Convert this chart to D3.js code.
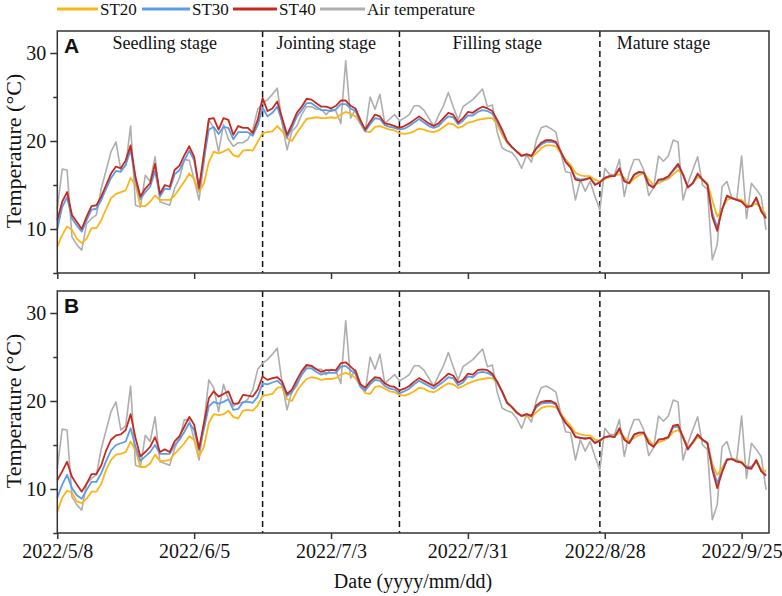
<!DOCTYPE html>
<html lang="en">
<head>
  <meta charset="utf-8">
  <script src="https://d3js.org/d3.v7.min.js"></script>
  <style>
    body { margin: 0; background: #fff; }
    text { font-family: "Liberation Serif", "Times New Roman", serif; fill: #111; }
  </style>
</head>
<body>
  <div id="chart"></div>
  <script>
  const width = 782
  const height = 596

  // ---------------- data ----------------
  const startDate = "2022-05-08"
  const endDay = 145.6            // axis runs a little past the last day
  const tickDates = ["2022-05-08", "2022-06-05", "2022-07-03", "2022-07-31", "2022-08-28", "2022-09-25"]
  const stageBreaks = ["2022-06-19", "2022-07-17", "2022-08-27"]
  const stageNames = ["Seedling stage", "Jointing stage", "Filling stage", "Mature stage"]
  const stageLabelX = ["2022-05-30", "2022-07-02", "2022-08-06", "2022-09-09"]
  const seriesNames = ["ST20", "ST30", "ST40", "Air temperature"]
  const seriesColors = ["#FDB515", "#5B9CEB", "#C62A1E", "#AEAEAE"]

  // daily mean air temperature, 2022/5/8 - 2022/9/30
  const airTemp = [
    12.3,16.8,16.7,9.1,8.2,7.6,10.6,11.2,11.6,14.6, 16.7,18.8,19.9,16.7,17.2,21.7,12.7,12.5,16.1,15.4,
    18.2,13.1,12.9,12.7,14.6,15.8,17.9,17.8,15.6,13.3, 17.5,22.4,21.5,18.8,21.9,20.2,19.4,19.8,19.8,20.2,
    21.3,23.6,24.3,24.7,25.3,26.0,22.0,19.0,21.1,21.7, 23.0,23.9,23.9,23.6,23.6,23.0,23.6,23.4,22.0,29.1,
    22.6,23.6,22.0,21.1,25.0,23.6,25.3,22.0,22.5,23.0, 22.3,22.6,23.0,24.0,24.0,23.5,22.6,21.7,22.9,24.0,
    25.5,23.9,22.4,23.9,24.3,24.7,25.3,25.9,23.9,24.1, 21.0,19.2,18.9,18.7,18.0,16.9,18.4,17.6,20.1,21.5,
    21.7,21.4,21.0,18.6,16.5,16.4,13.3,15.6,14.3,15.4, 13.7,12.2,16.9,16.2,16.2,17.9,13.7,16.4,17.9,17.9,
    16.7,13.8,14.7,18.3,17.7,18.3,20.1,19.9,13.3,15.2, 16.7,18.2,15.0,14.5,6.5,8.2,14.8,15.4,13.5,13.3,
    18.3,11.2,15.2,14.5,13.7,9.9
  ]

  // panel A soil temperatures
  const stA20 = [
    8.0,9.3,10.3,9.9,8.9,8.4,8.9,10.1,10.1,11.0, 12.3,13.5,14.0,14.2,14.4,15.8,15.0,12.6,12.6,13.1,
    13.8,13.3,13.3,13.3,13.8,14.6,15.4,16.3,15.7,14.2, 15.2,17.6,18.8,18.6,18.8,19.1,18.4,18.2,18.9,19.0,
    18.9,19.9,20.9,21.0,21.1,21.7,21.1,20.3,20.0,20.9, 21.7,22.5,22.6,22.7,22.6,22.6,22.7,22.6,23.0,23.3,
    23.1,22.8,22.0,21.1,21.0,21.6,21.7,21.5,21.3,21.2, 20.9,20.8,20.9,21.1,21.4,21.3,21.1,21.0,21.2,21.6,
    22.0,21.9,21.5,21.7,22.1,22.2,22.4,22.5,22.6,22.6, 21.9,20.7,19.8,19.3,18.8,18.4,18.4,18.2,18.6,19.2,
    19.5,19.5,19.4,18.6,17.9,17.3,16.4,16.1,16.0,16.0, 15.6,15.4,15.7,15.9,16.1,16.2,15.8,15.2,15.7,16.1,
    16.4,15.6,15.0,15.2,15.5,15.7,16.2,16.7,16.2,14.8, 15.2,15.9,15.7,15.2,13.3,11.4,12.3,13.3,13.5,13.4,
    13.3,12.8,12.6,12.9,12.4,11.6
  ]
  const stA30 = [
    10.0,12.5,13.6,11.2,10.4,9.7,11.0,12.2,12.3,13.3, 14.6,15.8,16.6,16.5,17.3,19.0,15.5,13.4,14.2,14.8,
    16.6,13.7,14.6,14.5,16.2,16.7,17.8,18.9,17.8,14.5, 18.0,21.3,21.6,20.8,21.6,21.5,20.2,21.0,21.0,21.0,
    20.6,21.8,23.8,22.8,23.2,23.9,22.2,20.4,21.5,22.8, 23.5,24.3,24.3,23.9,23.5,23.5,23.4,23.6,24.2,24.2,
    23.7,23.4,22.1,21.1,21.9,22.6,22.5,21.8,21.6,21.5, 21.3,21.4,21.7,22.1,22.5,22.1,21.7,21.5,21.7,22.3,
    22.8,22.7,21.9,22.3,22.9,22.9,23.3,23.5,23.4,23.1, 22.2,21.1,19.9,19.3,18.8,18.3,18.4,18.3,19.1,19.6,
    19.9,19.9,19.8,18.8,17.7,17.0,15.8,15.6,15.7,15.8, 15.1,15.3,15.8,16.0,16.0,16.8,15.5,15.2,16.1,16.4,
    16.4,15.1,14.8,15.5,15.6,15.9,16.6,17.2,16.2,14.8, 15.2,16.2,15.6,15.1,11.8,10.2,12.2,13.7,13.5,13.3,
    13.1,12.6,12.6,13.4,12.1,11.3
  ]
  const stA40 = [
    11.0,13.1,14.2,11.6,10.8,10.0,11.4,12.6,12.7,13.7, 15.0,16.3,17.1,16.9,17.8,19.5,15.9,13.7,14.6,15.2,
    17.4,14.0,15.0,14.8,16.7,17.2,18.4,19.4,18.2,14.7, 18.6,22.5,22.6,21.3,22.6,22.4,20.7,21.7,21.5,21.5,
    20.9,22.4,24.9,23.4,23.7,24.5,22.6,20.7,21.9,23.2, 23.9,24.8,24.7,24.3,23.9,23.9,23.7,24.0,24.6,24.6,
    24.0,23.7,22.4,21.3,22.2,23.0,22.8,22.0,21.9,21.7, 21.5,21.7,22.0,22.4,22.8,22.4,22.0,21.7,22.0,22.6,
    23.2,23.0,22.1,22.6,23.3,23.2,23.6,23.9,23.7,23.4, 22.4,21.3,20.0,19.3,18.8,18.3,18.5,18.3,19.2,19.8,
    20.1,20.1,19.9,18.8,17.6,17.0,15.6,15.5,15.6,15.8, 15.0,15.3,15.8,16.0,16.0,16.9,15.4,15.2,16.2,16.5,
    16.4,15.0,14.7,15.6,15.7,16.0,16.7,17.4,16.2,14.7, 15.2,16.3,15.6,15.0,11.4,9.8,12.2,13.8,13.5,13.3,
    13.1,12.5,12.6,13.6,12.0,11.2
  ]

  // panel B soil temperatures
  const stB20 = [
    7.4,9.0,9.8,9.6,8.6,8.4,8.9,9.7,9.7,10.6, 12.2,13.3,13.9,14.0,14.2,15.4,14.4,12.5,12.5,12.9,
    13.9,13.2,13.2,13.3,14.0,14.6,15.2,16.0,15.6,13.7, 14.8,17.5,18.5,18.4,18.5,18.9,18.2,18.0,18.9,19.0,
    18.9,19.5,20.6,20.7,20.8,21.5,21.6,20.2,20.0,21.1, 21.9,22.5,22.7,22.6,22.4,22.5,22.5,22.6,23.0,23.2,
    23.0,22.6,21.7,20.9,20.8,21.6,21.7,21.4,21.1,21.0, 20.7,20.6,20.8,21.1,21.5,21.4,21.1,21.0,21.3,21.7,
    22.0,21.9,21.5,21.7,22.0,22.2,22.4,22.5,22.6,22.6, 22.0,21.1,19.9,19.3,18.6,18.3,18.3,18.2,18.7,19.2,
    19.4,19.4,19.3,18.6,17.8,17.2,16.4,16.2,16.1,16.1, 15.6,15.5,15.8,16.0,16.0,16.4,15.9,15.4,15.8,16.1,
    16.3,15.6,15.0,15.3,15.5,15.8,16.5,16.7,16.0,14.8, 15.2,15.9,15.6,15.3,12.9,11.6,12.4,13.4,13.4,13.3,
    13.1,12.6,12.5,13.0,12.3,12.0
  ]
  const stB30 = [
    9.0,10.5,11.6,10.1,9.3,8.9,9.9,10.8,10.8,11.8, 13.2,14.4,15.0,15.2,15.4,16.9,14.8,13.2,13.7,14.2,
    15.0,14.0,14.0,14.0,15.0,15.6,16.5,17.5,16.7,14.4, 16.8,19.4,19.9,19.7,19.9,20.2,19.0,19.1,19.9,19.9,
    19.8,20.5,22.0,21.9,22.1,22.3,21.8,20.6,21.0,22.0, 23.0,23.7,23.7,23.3,23.0,23.2,23.2,23.2,23.9,24.0,
    23.5,23.1,21.6,21.2,21.9,22.4,22.3,21.7,21.4,21.3, 20.9,21.1,21.4,21.9,22.3,22.0,21.7,21.4,21.8,22.2,
    22.7,22.6,21.8,22.1,22.8,22.7,23.2,23.3,23.2,22.9, 22.1,21.0,19.8,19.3,18.7,18.3,18.5,18.3,19.3,19.7,
    19.8,19.8,19.6,18.4,17.5,16.9,16.0,15.8,15.8,15.8, 15.3,15.5,15.9,16.0,15.9,16.8,15.6,15.2,16.1,16.4,
    16.4,15.2,14.8,15.6,15.7,15.9,17.0,17.1,15.9,14.6, 15.3,16.1,15.6,15.2,12.5,10.7,12.0,13.4,13.4,13.2,
    13.0,12.5,12.5,13.2,12.1,11.6
  ]
  const stB40 = [
    11.0,12.0,13.1,11.4,10.5,9.7,10.6,11.7,11.7,12.7, 14.4,15.6,16.1,16.2,16.7,18.5,15.8,13.7,14.2,14.8,
    15.9,14.2,14.5,14.2,15.4,16.0,17.1,18.2,17.3,14.6, 17.5,20.3,21.1,20.5,20.8,21.1,19.7,19.7,20.7,20.6,
    20.5,21.3,22.8,22.4,22.6,22.7,22.2,20.8,21.3,22.4, 23.4,24.1,24.0,23.6,23.3,23.5,23.5,23.5,24.3,24.4,
    23.9,23.4,21.9,21.5,22.2,22.7,22.6,22.0,21.7,21.6, 21.2,21.4,21.7,22.2,22.6,22.3,22.0,21.7,22.1,22.6,
    23.1,22.9,22.1,22.4,23.1,23.0,23.5,23.6,23.5,23.1, 22.2,21.1,19.8,19.3,18.7,18.3,18.5,18.3,19.5,19.9,
    20.0,20.0,19.7,18.4,17.5,16.9,15.9,15.8,15.7,15.8, 15.2,15.5,15.9,16.0,15.9,16.9,15.6,15.2,16.2,16.4,
    16.4,15.2,14.8,15.6,15.7,15.9,17.2,17.3,15.9,14.5, 15.3,16.2,15.6,15.2,12.2,10.1,11.9,13.3,13.4,13.1,
    13.0,12.4,12.3,13.3,12.0,11.5
  ]

  const panels = [
    { label: "A", top: 31, series: [stA20, stA30, stA40], stages: true, tickLabels: false },
    { label: "B", top: 291, series: [stB20, stB30, stB40], stages: false, tickLabels: true }
  ]

  // ---------------- scales ----------------
  const parse = d3.utcParse("%Y-%m-%d")
  const day0 = parse(startDate)
  const dayAt = i => d3.utcDay.offset(day0, i)
  const left = 57.3, right = 769, plotH = 242

  const x = d3.scaleUtc()
    .domain([day0, new Date(+day0 + endDay * 864e5)])
    .range([left, right])

  const svg = d3.select("#chart").append("svg")
    .attr("width", width)
    .attr("height", height)

  ////////////////////////////////////////////////////////////
  ///////////////////////// Legend ///////////////////////////
  ////////////////////////////////////////////////////////////
  const legendX = [57, 142, 233, 320]
  const legendLen = [41, 48, 44, 45]
  const legend = svg.append("g")
  seriesNames.forEach((name, k) => {
    legend.append("line")
      .attr("x1", legendX[k]).attr("x2", legendX[k] + legendLen[k])
      .attr("y1", 9).attr("y2", 9)
      .attr("stroke", seriesColors[k])
      .attr("stroke-width", 3)
    legend.append("text")
      .attr("x", legendX[k] + legendLen[k] + 2)
      .attr("y", 15)
      .style("font-size", "17px")
      .text(name)
  })

  ////////////////////////////////////////////////////////////
  ///////////////////////// Panels ///////////////////////////
  ////////////////////////////////////////////////////////////
  panels.forEach(p => {
    const y = d3.scaleLinear()
      .domain([5, 32.5])
      .range([p.top + plotH, p.top])

    const g = svg.append("g")

    // dashed stage boundaries
    g.selectAll(".stage")
      .data(stageBreaks)
      .enter().append("line")
      .attr("x1", d => x(parse(d))).attr("x2", d => x(parse(d)))
      .attr("y1", p.top).attr("y2", p.top + plotH)
      .attr("stroke", "#111")
      .attr("stroke-width", 1.5)
      .attr("stroke-dasharray", "6,4")

    const line = d3.line()
      .x((d, i) => x(dayAt(i)))
      .y(d => y(d))

    const all = p.series.concat([airTemp])
    const order = [3, 0, 1, 2]  // air temperature underneath
    order.forEach(k => {
      g.append("path")
        .datum(all[k])
        .attr("d", line)
        .attr("fill", "none")
        .attr("stroke", seriesColors[k])
        .attr("stroke-width", k === 3 ? 1.6 : 1.8)
        .attr("stroke-linejoin", "round")
    })

    // frame
    g.append("rect")
      .attr("x", left).attr("y", p.top)
      .attr("width", right - left).attr("height", plotH)
      .attr("fill", "none")
      .attr("stroke", "#333")
      .attr("stroke-width", 1.5)

    // y axis
    const yAxis = g.append("g")
      .attr("transform", `translate(${left},0)`)
      .call(d3.axisLeft(y)
        .tickValues([5, 10, 15, 20, 25, 30])
        .tickSize(7)
        .tickPadding(4)
        .tickFormat(d => d % 10 === 0 ? d : ""))
    yAxis.select(".domain").remove()
    yAxis.selectAll(".tick line")
      .attr("stroke", "#333").attr("stroke-width", 1.5)
      .attr("x2", d => d % 10 === 0 ? -7 : -4)
    yAxis.selectAll(".tick text")
      .style("font-size", "20px")
      .attr("font-family", null)

    // x axis
    const xAxis = g.append("g")
      .attr("transform", `translate(0,${p.top + plotH})`)
      .call(d3.axisBottom(x)
        .tickValues(tickDates.map(parse))
        .tickSize(6)
        .tickPadding(5)
        .tickFormat(p.tickLabels ? d3.utcFormat("%Y/%-m/%-d") : ""))
    xAxis.select(".domain").remove()
    xAxis.selectAll(".tick line").attr("stroke", "#333").attr("stroke-width", 1.5)
    xAxis.selectAll(".tick text")
      .style("font-size", "20px")
      .attr("font-family", null)

    // y title
    g.append("text")
      .attr("transform", `translate(21,${p.top + 120}) rotate(-90)`)
      .attr("text-anchor", "middle")
      .style("font-size", "22px")
      .text("Temperature (°C)")

    // panel letter
    g.append("text")
      .attr("x", 64).attr("y", p.top + 22)
      .style("font-family", "'Liberation Sans', Arial, sans-serif")
      .style("font-weight", "bold")
      .style("font-size", "21px")
      .text(p.label)

    if (p.stages) {
      g.selectAll(".stageName")
        .data(stageNames)
        .enter().append("text")
        .attr("x", (d, i) => x(parse(stageLabelX[i])))
        .attr("y", p.top + 18)
        .attr("text-anchor", "middle")
        .style("font-size", "18px")
        .text(d => d)
    }
  })

  // x title
  svg.append("text")
    .attr("x", 413).attr("y", 588)
    .attr("text-anchor", "middle")
    .style("font-size", "20px")
    .text("Date (yyyy/mm/dd)")
  </script>
</body>
</html>
